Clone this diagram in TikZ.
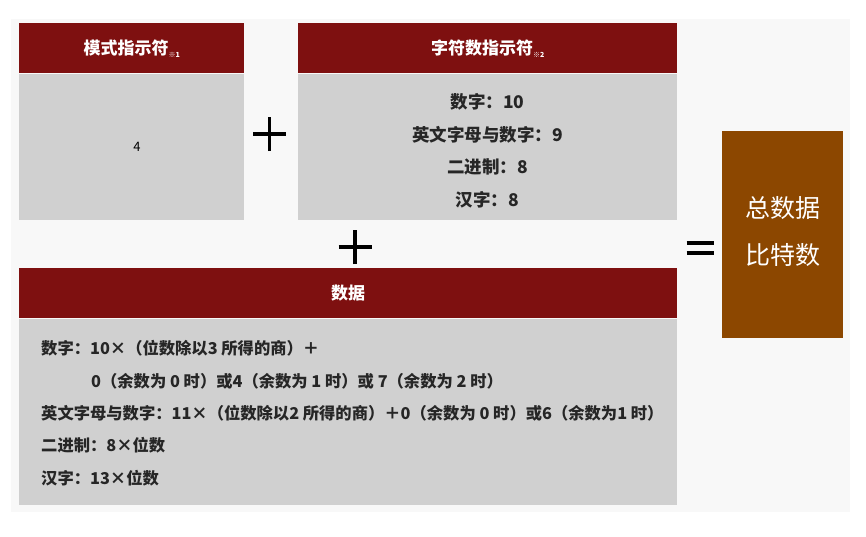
\documentclass[tikz,border=0pt]{standalone}
\usepackage{fontspec}
\setmainfont{Noto Sans CJK SC}
\definecolor{hdr}{HTML}{7E1010}
\definecolor{bodyg}{HTML}{D0D0D0}
\definecolor{brown}{HTML}{8C4700}
\definecolor{bgg}{HTML}{F8F8F8}
\tikzset{
  hbox/.style={fill=hdr, draw=none, text=white, font=\fontsize{17}{20}\selectfont\bfseries, inner sep=0pt, anchor=north west},
  bbox/.style={fill=bodyg, draw=none, inner sep=0pt, anchor=north west},
  sym/.style={line width=3.2pt},
  line/.style={anchor=west, inner sep=0pt, text=black!85, font=\fontsize{16.3}{19}\selectfont\bfseries},
  cline/.style={inner sep=0pt, text=black!85, font=\fontsize{17.5}{20}\selectfont\bfseries}
}
\newcommand{\nt}[1]{\raisebox{-3pt}{\fontsize{7}{8}\selectfont #1}}
\begin{document}
\begin{tikzpicture}[x=1pt,y=-1pt]
\useasboundingbox (0,0) rectangle (866,536);
\fill[white] (0,0) rectangle (866,536);
\fill[bgg] (11,19) rectangle (850,512);
% box 1
\node[hbox, minimum width=225pt, minimum height=50pt] (h1) at (19,23) {模式指示符\nt{※1}};
\node[bbox, minimum width=225pt, minimum height=146pt] (b1) at (19,74) {};
\node[inner sep=0pt, font=\fontsize{13}{15}\selectfont] (t1) at (137,147) {4};
% box 2
\node[hbox, minimum width=379pt, minimum height=50pt] (h2) at (298,23) {字符数指示符\nt{※2}};
\node[bbox, minimum width=379pt, minimum height=146pt] (b2) at (298,74) {};
\node[cline] (t2a) at (487.5,102) {数字：10};
\node[cline] (t2b) at (487.5,135) {英文字母与数字：9};
\node[cline] (t2c) at (487.5,167) {二进制：8};
\node[cline] (t2d) at (487.5,200) {汉字：8};
% data box
\node[hbox, minimum width=658pt, minimum height=50pt] (h3) at (19,268) {数据};
\node[bbox, minimum width=658pt, minimum height=186pt] (b3) at (19,319) {};
\node[line] (d1) at (41,348) {数字：10×（位数除以3 所得的商）＋};
\node[line] (d2) at (91,381) {0（余数为 0 时）或4（余数为 1 时）或 7（余数为 2 时）};
\node[line] (d3) at (41,413) {英文字母与数字：11×（位数除以2 所得的商）＋0（余数为 0 时）或6（余数为1 时）};
\node[line] (d4) at (41,445) {二进制：8×位数};
\node[line] (d5) at (41,478) {汉字：13×位数};
% result box
\node[fill=brown, draw=none, inner sep=0pt, anchor=north west, minimum width=121pt, minimum height=207pt] (r) at (722,131) {};
\node[text=white, font=\fontsize{25}{47}\selectfont, align=center, inner sep=0pt] (rt) at (783,232) {总数据\\比特数};
% operators
\coordinate (p1) at (269.5,134);
\draw[sym] ([xshift=-16.5pt]p1) -- ([xshift=16.5pt]p1);
\draw[sym] ([yshift=-17pt]p1) -- ([yshift=17pt]p1);
\coordinate (p2) at (355,247);
\draw[sym] ([xshift=-16.5pt]p2) -- ([xshift=16.5pt]p2);
\draw[sym] ([yshift=-17pt]p2) -- ([yshift=17pt]p2);
\coordinate (eq) at (700,248);
\draw[sym] ([xshift=-13.5pt,yshift=-5pt]eq) -- ([xshift=13.5pt,yshift=-5pt]eq);
\draw[sym] ([xshift=-13.5pt,yshift=5pt]eq) -- ([xshift=13.5pt,yshift=5pt]eq);
\end{tikzpicture}
\end{document}
